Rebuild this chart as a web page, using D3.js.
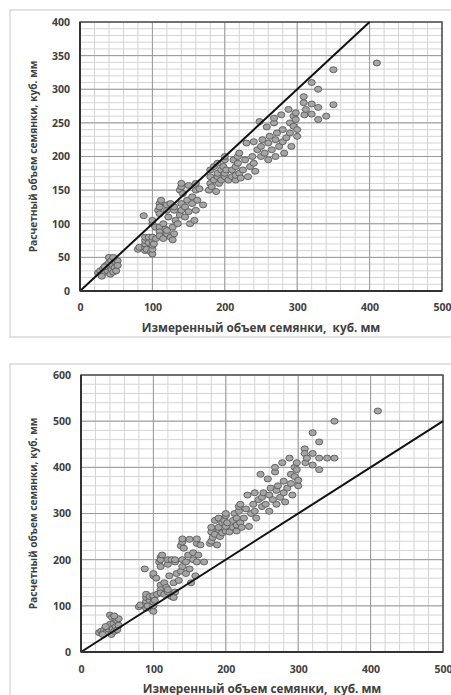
<!DOCTYPE html>
<html>
<head>
<meta charset="utf-8">
<script src="https://cdn.jsdelivr.net/npm/d3@7"></script>
<style>
  body { margin: 0; background: #fff; overflow: hidden; }
  svg { display: block; font-family: "Open Sans", sans-serif; }
</style>
</head>
<body>
<div id="chart"></div>
<script>
// Measured achene volume (shared by both panels)
const measured = [
  25,28,30,32,35,36,38,40,40,40,42,43,44,45,46,48,48,50,50,52,52,30,34,46,
  80,82,88,90,90,90,90,90,92,95,95,98,100,100,100,100,100,100,100,102,105,104,
  108,110,110,110,110,110,110,112,115,115,118,120,120,120,120,122,125,125,128,128,130,130,130,132,135,
  138,138,140,140,140,140,142,145,145,148,150,150,152,155,155,158,160,160,160,162,165,170,
  178,180,180,180,182,185,185,188,190,190,190,192,195,195,198,200,200,200,200,202,205,
  210,210,212,215,215,215,218,218,220,220,222,225,228,230,232,235,238,240,240,242,245,
  248,250,250,252,255,258,260,260,262,265,268,268,270,270,272,275,278,280,280,282,285,288,290,290,292,295,295,298,298,300,300,
  309,309,310,312,320,320,320,329,329,329,340,350,350,410
];
// Calculated volume, upper panel
const calcA = [
  27,30,25,33,28,38,30,50,35,42,25,45,32,38,28,47,35,42,30,45,38,22,36,50,
  62,65,112,60,65,70,75,80,62,72,80,58,55,62,68,75,80,100,105,70,78,95,
  120,130,125,115,95,88,82,135,78,100,92,85,90,120,128,110,80,130,76,95,85,120,125,105,100,
  113,150,155,160,120,130,145,110,125,135,118,157,100,130,140,105,120,150,160,135,152,128,
  150,160,170,180,155,165,185,148,170,175,190,160,180,165,185,170,175,195,200,180,165,
  170,180,195,165,172,185,190,200,175,205,168,180,195,220,170,185,200,222,190,178,210,
  252,200,215,225,205,244,220,195,230,210,250,257,225,200,235,215,262,240,222,205,228,270,235,250,215,245,260,255,265,230,240,
  289,280,262,270,278,310,263,300,273,255,260,329,277,339
];
// Calculated volume, lower panel
const calcB = [
  42,45,40,48,44,52,50,80,55,60,38,75,50,62,45,70,55,68,48,72,58,38,55,78,
  98,102,180,95,105,110,118,125,100,112,120,92,88,100,108,118,122,165,170,112,125,160,
  195,205,200,185,145,135,128,210,125,150,140,130,135,190,200,165,120,200,118,150,130,195,200,170,155,
  175,230,238,245,185,200,225,170,195,210,180,244,150,200,215,165,195,235,245,210,232,195,
  235,240,260,270,248,255,285,232,265,270,290,250,280,258,285,262,272,295,300,280,260,
  270,285,300,262,275,290,305,315,280,320,270,290,310,340,272,300,320,345,305,290,330,
  385,315,335,345,320,375,340,305,355,330,390,400,350,320,360,335,410,370,345,325,355,420,365,385,340,380,400,395,410,360,372,
  440,430,410,420,430,475,405,455,420,395,420,500,420,522
];

const xTicks = [0, 100, 200, 300, 400, 500];
const yTicksA = [0, 50, 100, 150, 200, 250, 300, 350, 400];
const yTicksB = [0, 100, 200, 300, 400, 500, 600];
const refLineA = [[0, 0], [400, 400]];
const refLineB = [[0, 0], [500, 500]];
const xTitle = "Измеренный объем семянки,  куб. мм";
const yTitle = "Расчетный объем семянки, куб. мм";

const svg = d3.select("#chart").append("svg")
    .attr("width", 451)
    .attr("height", 695);

function drawPanel(p) {
    const g = svg.append("g");

    // outer chart frame
    g.append("rect")
        .attr("x", p.frame[0]).attr("y", p.frame[1])
        .attr("width", p.frame[2]).attr("height", p.frame[3])
        .attr("fill", "#fff")
        .attr("stroke", "#d9d9d9")
        .attr("stroke-width", 1.5);

    const x = d3.scaleLinear().domain([0, 500]).range([p.left, p.right]);
    const y = d3.scaleLinear().domain([0, p.yMax]).range([p.bottom, p.top]);

    // minor grid
    g.append("g").selectAll("line")
        .data(x.ticks(25))
        .join("line")
        .attr("x1", d => x(d)).attr("x2", d => x(d))
        .attr("y1", p.top).attr("y2", p.bottom)
        .attr("stroke", "#d4d4d4").attr("stroke-width", 1);
    g.append("g").selectAll("line")
        .data(d3.range(0, p.yMax + 1, p.yMinor))
        .join("line")
        .attr("x1", p.left).attr("x2", p.right)
        .attr("y1", d => y(d)).attr("y2", d => y(d))
        .attr("stroke", "#d4d4d4").attr("stroke-width", 1);

    // major grid
    g.append("g").selectAll("line")
        .data(xTicks)
        .join("line")
        .attr("x1", d => x(d)).attr("x2", d => x(d))
        .attr("y1", p.top).attr("y2", p.bottom)
        .attr("stroke", "#999").attr("stroke-width", 1);
    g.append("g").selectAll("line")
        .data(p.yTicks)
        .join("line")
        .attr("x1", p.left).attr("x2", p.right)
        .attr("y1", d => y(d)).attr("y2", d => y(d))
        .attr("stroke", "#999").attr("stroke-width", 1);

    // plot frame
    g.append("rect")
        .attr("x", p.left).attr("y", p.top)
        .attr("width", p.right - p.left).attr("height", p.bottom - p.top)
        .attr("fill", "none")
        .attr("stroke", "#555")
        .attr("stroke-width", 1.5);

    // points
    g.append("g").selectAll("ellipse")
        .data(measured.map((m, i) => [m, p.values[i]]))
        .join("ellipse")
        .attr("cx", d => x(d[0]))
        .attr("cy", d => y(d[1]))
        .attr("rx", 3.6)
        .attr("ry", 3)
        .attr("fill", "#a5a5a5")
        .attr("stroke", "#5a5a5a")
        .attr("stroke-width", 0.9);

    // 1:1 line
    g.append("path")
        .datum(p.refLine)
        .attr("d", d3.line().x(d => x(d[0])).y(d => y(d[1])))
        .attr("fill", "none")
        .attr("stroke", "#111")
        .attr("stroke-width", 2);

    // axis lines
    g.append("line")
        .attr("x1", p.left).attr("x2", p.right)
        .attr("y1", p.bottom).attr("y2", p.bottom)
        .attr("stroke", "#333").attr("stroke-width", 2);
    g.append("line")
        .attr("x1", p.left).attr("x2", p.left)
        .attr("y1", p.top).attr("y2", p.bottom)
        .attr("stroke", "#333").attr("stroke-width", 2);

    // tick labels
    const xAxis = g.append("g")
        .attr("transform", `translate(0,${p.bottom})`)
        .call(d3.axisBottom(x).tickValues(xTicks).tickSize(0).tickPadding(p.xPad));
    const yAxis = g.append("g")
        .attr("transform", `translate(${p.left},0)`)
        .call(d3.axisLeft(y).tickValues(p.yTicks).tickSize(0).tickPadding(10));
    [xAxis, yAxis].forEach(a => {
        a.select(".domain").remove();
        a.selectAll("text")
            .attr("font-family", "'Open Sans', sans-serif")
            .attr("font-size", 10.5)
            .attr("font-weight", "bold")
            .attr("fill", "#404040");
    });

    // axis titles
    g.append("text")
        .attr("x", (p.left + p.right) / 2)
        .attr("y", p.xTitleY)
        .attr("text-anchor", "middle")
        .attr("font-size", 11.8)
        .attr("font-weight", "bold")
        .attr("fill", "#404040")
        .style("white-space", "pre")
        .text(xTitle);
    g.append("text")
        .attr("transform", `translate(37,${(p.top + p.bottom) / 2}) rotate(-90)`)
        .attr("text-anchor", "middle")
        .attr("font-size", 10.2)
        .attr("font-weight", "bold")
        .attr("fill", "#404040")
        .text(yTitle);
}

drawPanel({
    frame: [10, 10, 460, 327],
    left: 80, right: 442, top: 22, bottom: 291,
    yMax: 400, yMinor: 10, yTicks: yTicksA,
    values: calcA, refLine: refLineA,
    xPad: 13, xTitleY: 332
});

drawPanel({
    frame: [10, 364, 460, 360],
    left: 81, right: 443, top: 375, bottom: 652,
    yMax: 600, yMinor: 20, yTicks: yTicksB,
    values: calcB, refLine: refLineB,
    xPad: 14, xTitleY: 693
});
</script>
</body>
</html>
